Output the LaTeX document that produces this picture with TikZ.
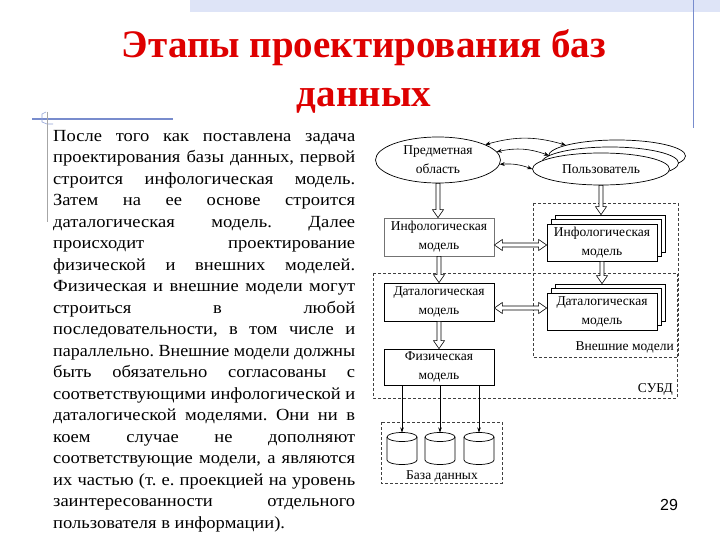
\documentclass[tikz,border=0pt]{standalone}
\usepackage{graphicx}
\usepackage{fontspec}
\setmainfont{Liberation Serif}
\newfontfamily\bodyfont[FakeStretch=1.09]{Liberation Serif}
\newfontfamily\numfont{Liberation Sans}
\usetikzlibrary{shapes.geometric,arrows.meta,calc}
\definecolor{titlered}{RGB}{222,0,0}
\definecolor{decoblue}{RGB}{120,140,205}
\definecolor{bandblue}{RGB}{222,228,247}
\frenchspacing
\newlength{\linew}
\setlength{\linew}{302pt}
\newsavebox{\jlbox}
\newcommand{\jline}[1]{\sbox{\jlbox}{#1}%
  \ifdim\wd\jlbox>\linew\resizebox{\linew}{\height}{\usebox{\jlbox}}%
  \else\makebox[\linew][s]{#1}\fi\par}
\newcommand{\varrow}[2]{\path[harrow] let \p1=(#1), \p2=(#2) in
  (\x1-2pt,\y1) -- (\x1-2pt,\y2+8pt) -- (\x1-5.5pt,\y2+8pt) -- (\x1,\y2) --
  (\x1+5.5pt,\y2+8pt) -- (\x1+2pt,\y2+8pt) -- (\x1+2pt,\y1) -- cycle;}
\newcommand{\hdarrow}[2]{\path[harrow] let \p1=(#1), \p2=(#2) in
  (\x1,\y1) -- (\x1+8pt,\y1+5.5pt) -- (\x1+8pt,\y1+2pt) -- (\x2-8pt,\y1+2pt) --
  (\x2-8pt,\y1+5.5pt) -- (\x2,\y1) -- (\x2-8pt,\y1-5.5pt) -- (\x2-8pt,\y1-2pt) --
  (\x1+8pt,\y1-2pt) -- (\x1+8pt,\y1-5.5pt) -- cycle;}
\tikzset{
  box/.style={draw, line width=0.7pt, fill=white, minimum width=110pt, minimum height=37pt,
    inner sep=0pt, align=center, font=\fontsize{13.5}{19}\selectfont},
  oval/.style={ellipse, draw, line width=0.7pt, fill=white, inner sep=0pt, align=center,
    font=\fontsize{13.5}{19}\selectfont},
  frame/.style={draw=black!75, dash pattern=on 3pt off 2pt, line width=0.8pt},
  harrow/.style={draw, fill=white, line width=0.6pt},
  thinarrow/.style={line width=0.6pt, -{Stealth[length=5pt,width=3.5pt]}},
  biarrow/.style={line width=0.6pt, {Stealth[length=5pt,width=4pt]}-{Stealth[length=5pt,width=4pt]}},
  lbl/.style={inner sep=0pt, font=\fontsize{13.5}{15}\selectfont},
  cyl/.style={line width=0.7pt}
}
\begin{document}
\begin{tikzpicture}[x=1pt,y=-1pt]
\useasboundingbox (0,0) rectangle (720,540);
\fill[white] (0,0) rectangle (720,540);
% decorations
\fill[bandblue] (190,0) rectangle (720,12);
\draw[decoblue, line width=1pt] (693,0) -- (693,128);
\draw[decoblue, line width=1.8pt] (32,119) -- (173,119);
\draw[decoblue!80, line width=0.6pt] (46,112) -- (42,114) -- (42,122) -- (47,124) -- (53,124);
\draw[black!35, line width=0.6pt] (47,112) -- (47,222);
% title
\node[font=\fontsize{39}{40}\selectfont\bfseries, text=titlered, anchor=base, inner sep=0pt] (t1) at (364,58) {Этапы проектирования баз};
\node[font=\fontsize{39}{40}\selectfont\bfseries, text=titlered, anchor=base, inner sep=0pt] (t2) at (364,107) {данных};
% body text
\node[anchor=base west, inner sep=0pt] (body) at (53,141.5) {\parbox[t]{302pt}{\bodyfont\fontsize{17}{21.5}\selectfont\setlength\parindent{0pt}%
\jline{После того как поставлена задача}
\jline{проектирования базы данных, первой}
\jline{строится инфологическая модель.}
\jline{Затем на ее основе строится}
\jline{даталогическая модель. Далее}
\jline{происходит проектирование}
\jline{физической и внешних моделей.}
\jline{Физическая и внешние модели могут}
\jline{строиться в любой}
\jline{последовательности, в том числе и}
\jline{параллельно. Внешние модели должны}
\jline{быть обязательно согласованы с}
\jline{соответствующими инфологической и}
\jline{даталогической моделями. Они ни в}
\jline{коем случае не дополняют}
\jline{соответствующие модели, а являются}
\jline{их частью (т. е. проекцией на уровень}
\jline{заинтересованности отдельного}
пользователя в информации).}};
% frames
\draw[frame] (533,203) rectangle (678,357);
\draw[frame] (373,273) rectangle (677,398);
\draw[frame] (381,422) rectangle (502,483);
% ellipses
\node[oval, minimum width=125pt, minimum height=46pt] (pred) at (438,160) {Предметная\\область};
\node[oval, minimum width=137pt, minimum height=32pt] (u3) at (617,156) {};
\node[oval, minimum width=137pt, minimum height=32pt] (u2) at (610,163) {};
\node[oval, minimum width=137pt, minimum height=32pt] (u1) at (601,169) {Пользователь};
% left boxes
\node[box, draw=black!55, minimum height=38pt] (info) at (439,237) {Инфологическая\\модель};
\node[box, minimum height=38pt] (dat) at (439,302) {Даталогическая\\модель};
\node[box, minimum height=36pt] (phys) at (439,367) {Физическая\\модель};
% external boxes
\node[box] (ei3) at (610,233.5) {};
\node[box] (ei2) at (606,238) {};
\node[box] (ei1) at (602,242.5) {Инфологическая\\модель};
\node[box] (ed3) at (610,302.5) {};
\node[box] (ed2) at (606,307) {};
\node[box] (ed1) at (602,311.5) {Даталогическая\\модель};
% curved arrows
\draw[biarrow] (pred.18) to[bend left=16] (u3.168);
\draw[biarrow] (pred.8) to[bend left=16] (u2.173);
\draw[biarrow] (pred.-4) to[bend left=12] (u1.180);
% hollow arrows
\varrow{pred.south}{info.north}
\varrow{info.south}{dat.north}
\varrow{dat.south}{phys.north}
\varrow{u1.south}{ei3.north}
\varrow{ei1.south}{ed3.north}
\hdarrow{$(info.east)+(0,8)$}{ei1.west}
\hdarrow{$(dat.east)+(0,6)$}{ed1.west}
% database cylinders
\coordinate (db1) at (402,432.5);
\coordinate (db2) at (440,432.5);
\coordinate (db3) at (479,432.5);
\foreach \cx in {402,440,479}{
  \draw[cyl] (\cx,437) ellipse [x radius=15, y radius=4.5];
  \draw[cyl] (\cx-15,437) -- (\cx-15,460) arc[start angle=180, end angle=0, x radius=15, y radius=4.5] -- (\cx+15,437);
}
\draw[thinarrow] (phys.south -| db1) -- (db1);
\draw[thinarrow] (phys.south -| db2) -- (db2);
\draw[thinarrow] (phys.south -| db3) -- (db3);
% labels
\node[lbl, anchor=base east] (extlbl) at (674,350) {Внешние модели};
\node[lbl, anchor=base east] (subdlbl) at (673,392) {СУБД};
\node[lbl, anchor=base] (dblbl) at (442,479) {База данных};
\node[inner sep=0pt, font=\numfont\fontsize{16}{18}\selectfont, anchor=base] (pnum) at (669,510) {29};
\end{tikzpicture}
\end{document}
